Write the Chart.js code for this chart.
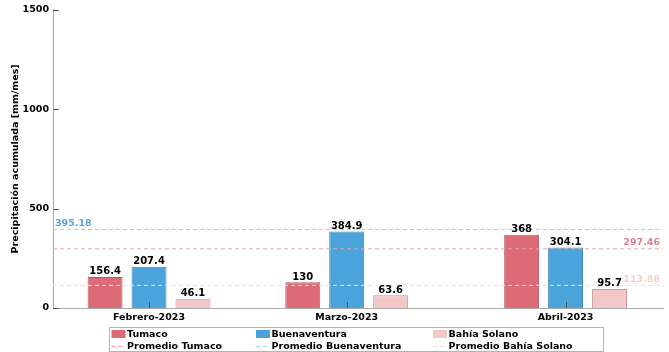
<!DOCTYPE html>
<html>
<head>
<meta charset="utf-8">
<script src="https://cdn.jsdelivr.net/npm/chart.js@4/dist/chart.umd.min.js"></script>
<style>
  html, body { margin: 0; padding: 0; background: #fff; }
  canvas { display: block; }
</style>
</head>
<body>
<canvas id="lluvia" width="669" height="352"></canvas>
<script>
// datos
const meses = ['Febrero-2023', 'Marzo-2023', 'Abril-2023'];
const fechas = ['2023-02-01', '2023-03-01', '2023-04-01'];
const estaciones = ['Tumaco', 'Buenaventura', 'Bahía Solano'];
const tumaco = [156.4, 130, 368];
const buenaventura = [207.4, 384.9, 304.1];
const bahiaSolano = [46.1, 63.6, 95.7];
const promedios = [297.46, 395.18, 113.88];

const FUENTE = '"DejaVu Sans", Verdana, sans-serif';
const colorBarra = ['#DC6A77', '#4AA3DA', '#F2C8C9'];
const colorBorde = ['#B85A66', '#3C85B3', '#C49C9E'];
const colorPromedio = ['#E9A2AA', '#A6CFEC', '#F6DDDD'];
const colorEtiqueta = ['#E0808B', '#5BA6D8', '#F4CFCF'];
const ladoEtiqueta = ['right', 'left', 'right'];

// dia del año para poner los meses en un eje de tiempo
function diaDelAno(s) {
    const d = new Date(s + 'T00:00:00Z');
    return (d - Date.UTC(2023, 0, 1)) / 86400000 + 1;
}
const dias = fechas.map(diaDelAno);
const xMin = dias[0] - 13.6;
const xMax = dias[dias.length - 1] + 13.8;

const series = [tumaco, buenaventura, bahiaSolano];

const barras = series.map((vals, i) => ({
    type: 'bar',
    label: estaciones[i],
    data: vals.map((v, j) => ({ x: dias[j], y: v })),
    backgroundColor: colorBarra[i],
    borderColor: colorBorde[i],
    borderWidth: 1,
    borderSkipped: 'bottom',
    categoryPercentage: 0.667,
    barPercentage: 0.795,
    order: 1
}));

const lineas = promedios.map((p, i) => ({
    type: 'line',
    label: 'Promedio ' + estaciones[i],
    data: [{ x: xMin, y: p }, { x: xMax, y: p }],
    borderColor: colorPromedio[i],
    borderWidth: 1,
    borderDash: [4, 3],
    pointRadius: 0,
    fill: false,
    order: 0
}));

const etiquetasPlugin = {
    id: 'etiquetas',
    afterDatasetsDraw(chart) {
        const ctx = chart.ctx;
        const area = chart.chartArea;
        ctx.save();
        // valores sobre las barras
        ctx.font = 'bold 10px ' + FUENTE;
        ctx.fillStyle = '#000';
        ctx.textAlign = 'center';
        ctx.textBaseline = 'alphabetic';
        for (let i = 0; i < series.length; i++) {
            const meta = chart.getDatasetMeta(i);
            meta.data.forEach((el, j) => {
                ctx.fillText(String(series[i][j]), el.x, el.y - 2.5);
            });
        }
        // valores de los promedios
        ctx.font = 'bold 9.5px ' + FUENTE;
        const yScale = chart.scales.y;
        promedios.forEach((p, i) => {
            const y = yScale.getPixelForValue(p);
            ctx.fillStyle = colorEtiqueta[i];
            if (ladoEtiqueta[i] === 'left') {
                ctx.textAlign = 'left';
                ctx.fillText(p.toFixed(2), area.left + 2, y - 3.5);
            } else {
                ctx.textAlign = 'right';
                ctx.fillText(p.toFixed(2), area.right - 3, y - 3.5);
            }
        });
        // marcas hacia adentro
        ctx.strokeStyle = '#555';
        ctx.lineWidth = 1;
        ctx.beginPath();
        yScale.ticks.forEach(t => {
            const y = Math.round(yScale.getPixelForValue(t.value)) + 0.5;
            ctx.moveTo(area.left, y);
            ctx.lineTo(area.left + 6, y);
        });
        const xScale = chart.scales.x;
        dias.forEach(d => {
            const x = Math.round(xScale.getPixelForValue(d)) + 0.5;
            ctx.moveTo(x, area.bottom);
            ctx.lineTo(x, area.bottom - 6);
        });
        ctx.stroke();
        ctx.restore();
    }
};

const leyendaPlugin = {
    id: 'leyenda',
    afterDraw(chart) {
        const ctx = chart.ctx;
        const colX = [111.5, 256, 433];
        const filaY = [334, 346];
        ctx.save();
        ctx.fillStyle = '#fff';
        ctx.fillRect(109.5, 327.5, 494, 24);
        ctx.strokeStyle = '#b4b4b4';
        ctx.lineWidth = 1;
        ctx.strokeRect(109.5, 327.5, 494, 24);
        ctx.font = 'bold 9.5px ' + FUENTE;
        ctx.textAlign = 'left';
        ctx.textBaseline = 'middle';
        for (let i = 0; i < estaciones.length; i++) {
            const x = colX[i];
            // barra
            ctx.fillStyle = colorBarra[i];
            ctx.fillRect(x, filaY[0] - 4, 14, 8);
            ctx.fillStyle = '#000';
            ctx.fillText(estaciones[i], x + 15.5, filaY[0] + 0.5);
            // promedio
            ctx.strokeStyle = colorPromedio[i];
            ctx.setLineDash([4, 3]);
            ctx.beginPath();
            ctx.moveTo(x, filaY[1] + 0.5);
            ctx.lineTo(x + 14, filaY[1] + 0.5);
            ctx.stroke();
            ctx.setLineDash([]);
            ctx.fillStyle = '#000';
            ctx.fillText(lineas[i].label, x + 15.5, filaY[1] + 0.5);
        }
        ctx.restore();
    }
};

new Chart(document.getElementById('lluvia'), {
    data: { datasets: [...barras, ...lineas] },
    options: {
        responsive: false,
        animation: false,
        events: [],
        layout: { padding: { left: 0, right: 6, top: 8, bottom: 26 } },
        plugins: {
            legend: { display: false },
            tooltip: { enabled: false }
        },
        scales: {
            x: {
                type: 'linear',
                min: xMin,
                max: xMax,
                offset: false,
                afterBuildTicks: (axis) => { axis.ticks = dias.map(d => ({ value: d })); },
                afterFit: (axis) => { axis.height = 18; },
                grid: { display: false, drawTicks: false, offset: false },
                border: { display: true, color: '#a8a8a8', width: 1 },
                ticks: {
                    padding: 4,
                    color: '#000',
                    font: { family: FUENTE, size: 9.5, weight: 'bold' },
                    maxRotation: 0,
                    autoSkip: false,
                    callback: (v) => meses[dias.indexOf(v)] || ''
                }
            },
            y: {
                min: 0,
                max: 1500,
                afterFit: (axis) => { axis.width = 53; },
                grid: { display: false, drawTicks: false },
                border: { display: true, color: '#a8a8a8', width: 1 },
                ticks: {
                    stepSize: 500,
                    padding: 4,
                    color: '#000',
                    font: { family: FUENTE, size: 9.5, weight: 'bold' },
                    callback: (v) => String(v)
                },
                title: {
                    display: true,
                    text: 'Precipitación acumulada [mm/mes]',
                    color: '#000',
                    font: { family: FUENTE, size: 9.5, weight: 'bold' },
                    padding: { top: 10, bottom: 0 }
                }
            }
        }
    },
    plugins: [etiquetasPlugin, leyendaPlugin]
});
</script>
</body>
</html>
